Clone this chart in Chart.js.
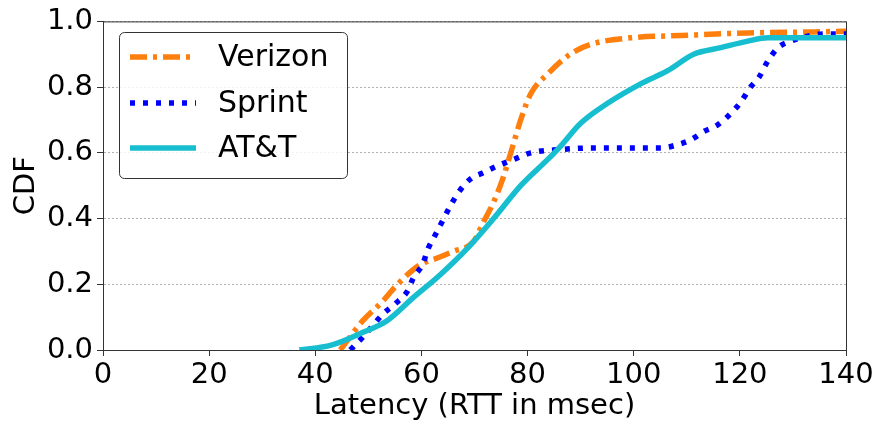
<!DOCTYPE html>
<html>
<head>
<meta charset="utf-8">
<title>CDF latency</title>
<script src="https://cdn.jsdelivr.net/npm/chart.js"></script>
<style>
  html, body { margin: 0; padding: 0; background: #fff; }
  #wrap { width: 879px; height: 426px; }
</style>
</head>
<body>
<div id="wrap"><canvas id="cdf" width="879" height="426"></canvas></div>
<script>
// Verizon
const verizonX = [44.7, 49, 52.8, 55.5, 59.8, 63, 66, 69.8, 71.7, 73.6, 75.3, 77.2, 78.7, 80.6, 83.8, 88, 91.9, 99.4, 108.9, 121.5, 134, 140];
const verizonY = [0, 0.09, 0.15, 0.2, 0.26, 0.28, 0.30, 0.33, 0.39, 0.45, 0.52, 0.62, 0.70, 0.78, 0.84, 0.90, 0.93, 0.95, 0.957, 0.965, 0.968, 0.97];

// Sprint
const sprintX = [46.6, 49, 52.8, 55, 57.4, 58.5, 60.2, 61.3, 62.6, 64.2, 65.5, 67, 69.2, 71.7, 74.3, 77.4, 80.6, 86.2, 92.5, 98.9, 105.1, 108.3, 110.8, 113.2, 115.8, 118.3, 120.2, 122, 123.6, 125.3, 127.2, 129.6, 132.8, 135.8, 140];
const sprintY = [0, 0.04, 0.11, 0.14, 0.18, 0.22, 0.26, 0.31, 0.35, 0.40, 0.44, 0.48, 0.52, 0.54, 0.56, 0.58, 0.60, 0.61, 0.615, 0.615, 0.615, 0.625, 0.64, 0.665, 0.685, 0.72, 0.755, 0.80, 0.83, 0.88, 0.92, 0.94, 0.955, 0.962, 0.962];

// AT&T
const attX = [37, 43, 49, 53.6, 58.5, 63.6, 68.7, 73.6, 78.7, 83.8, 86.2, 90, 95, 101.3, 106.4, 111.3, 116.4, 121.5, 125.3, 130, 140];
const attY = [0, 0.015, 0.054, 0.09, 0.16, 0.23, 0.31, 0.40, 0.50, 0.58, 0.62, 0.69, 0.75, 0.81, 0.85, 0.90, 0.92, 0.94, 0.95, 0.95, 0.95];

const xTicks = [0, 20, 40, 60, 80, 100, 120, 140];
const yTicks = [0, 0.2, 0.4, 0.6, 0.8, 1.0];

const FONT = "'DejaVu Sans', sans-serif";

function pts(xs, ys) {
  return xs.map((x, i) => ({ x: x, y: ys[i] }));
}

// рамка навколо області графіка
const frame = {
  id: 'frame',
  afterDatasetsDraw(chart) {
    const a = chart.chartArea, ctx = chart.ctx;
    ctx.save();
    ctx.strokeStyle = '#333';
    ctx.lineWidth = 1;
    ctx.setLineDash([]);
    ctx.strokeRect(a.left + 0.5, a.top + 0.5, a.right - a.left, a.bottom - a.top);
    ctx.restore();
  }
};

// легенда в рамці, як у matplotlib
const boxLegend = {
  id: 'boxLegend',
  afterDraw(chart) {
    const ctx = chart.ctx;
    const x0 = 119, y0 = 32, w = 228, h = 146, r = 5;
    ctx.save();
    ctx.fillStyle = 'rgba(255,255,255,0.85)';
    ctx.strokeStyle = '#333';
    ctx.lineWidth = 1;
    ctx.beginPath();
    ctx.roundRect(x0 + 0.5, y0 + 0.5, w, h, r);
    ctx.fill();
    ctx.stroke();
    const rows = [57, 103, 148];
    chart.data.datasets.forEach((ds, i) => {
      const y = rows[i];
      ctx.strokeStyle = ds.borderColor;
      ctx.lineWidth = ds.borderWidth;
      ctx.lineCap = 'butt';
      ctx.setLineDash(ds.borderDash || []);
      ctx.beginPath();
      ctx.moveTo(130, y);
      ctx.lineTo(196, y);
      ctx.stroke();
      ctx.setLineDash([]);
      ctx.fillStyle = '#000';
      ctx.font = '30px ' + FONT;
      ctx.textBaseline = 'middle';
      ctx.textAlign = 'left';
      ctx.fillText(ds.label, 218, y + 1);
    });
    ctx.restore();
  }
};

new Chart(document.getElementById('cdf'), {
  type: 'line',
  data: {
    datasets: [
      {
        label: 'Verizon',
        data: pts(verizonX, verizonY),
        borderColor: '#ff7f0e',
        borderWidth: 5.5,
        borderDash: [17, 6, 4, 6],
        order: 3
      },
      {
        label: 'Sprint',
        data: pts(sprintX, sprintY),
        borderColor: '#0000ff',
        borderWidth: 5.5,
        borderDash: [5, 8],
        order: 2
      },
      {
        label: 'AT&T',
        data: pts(attX, attY),
        borderColor: '#17becf',
        borderWidth: 5.5,
        borderDash: [],
        order: 1
      }
    ]
  },
  options: {
    responsive: false,
    animation: false,
    layout: { padding: { top: 17, right: 33, left: 0, bottom: 0 } },
    elements: {
      point: { radius: 0 },
      line: { cubicInterpolationMode: 'monotone', fill: false }
    },
    plugins: {
      legend: { display: false },
      tooltip: { enabled: false }
    },
    scales: {
      x: {
        type: 'linear',
        min: 0,
        max: 140,
        afterBuildTicks: s => { s.ticks = xTicks.map(v => ({ value: v })); },
        afterFit: s => { s.height = 76; },
        border: { color: '#333', width: 1 },
        grid: { drawOnChartArea: false, drawTicks: true, tickLength: 6, tickColor: '#333' },
        ticks: {
          color: '#000',
          font: { family: FONT, size: 29 },
          padding: 2,
          maxRotation: 0
        },
        title: {
          display: true,
          text: 'Latency (RTT in msec)',
          color: '#000',
          font: { family: FONT, size: 29 },
          padding: { top: 0, bottom: 2 }
        }
      },
      y: {
        type: 'linear',
        min: 0,
        max: 1,
        afterBuildTicks: s => { s.ticks = yTicks.map(v => ({ value: v })); },
        afterFit: s => { s.width = 103; },
        border: { color: '#333', width: 1, dash: [2, 2] },
        grid: {
          color: '#b0b0b0',
          lineWidth: 1,
          drawTicks: true,
          tickLength: 6,
          tickColor: '#333',
          tickBorderDash: []
        },
        ticks: {
          color: '#000',
          font: { family: FONT, size: 29 },
          padding: 4,
          callback: v => v.toFixed(1)
        },
        title: {
          display: true,
          text: 'CDF',
          color: '#000',
          font: { family: FONT, size: 29 },
          padding: { top: 9, bottom: 0 }
        }
      }
    }
  },
  plugins: [frame, boxLegend]
});
</script>
</body>
</html>
